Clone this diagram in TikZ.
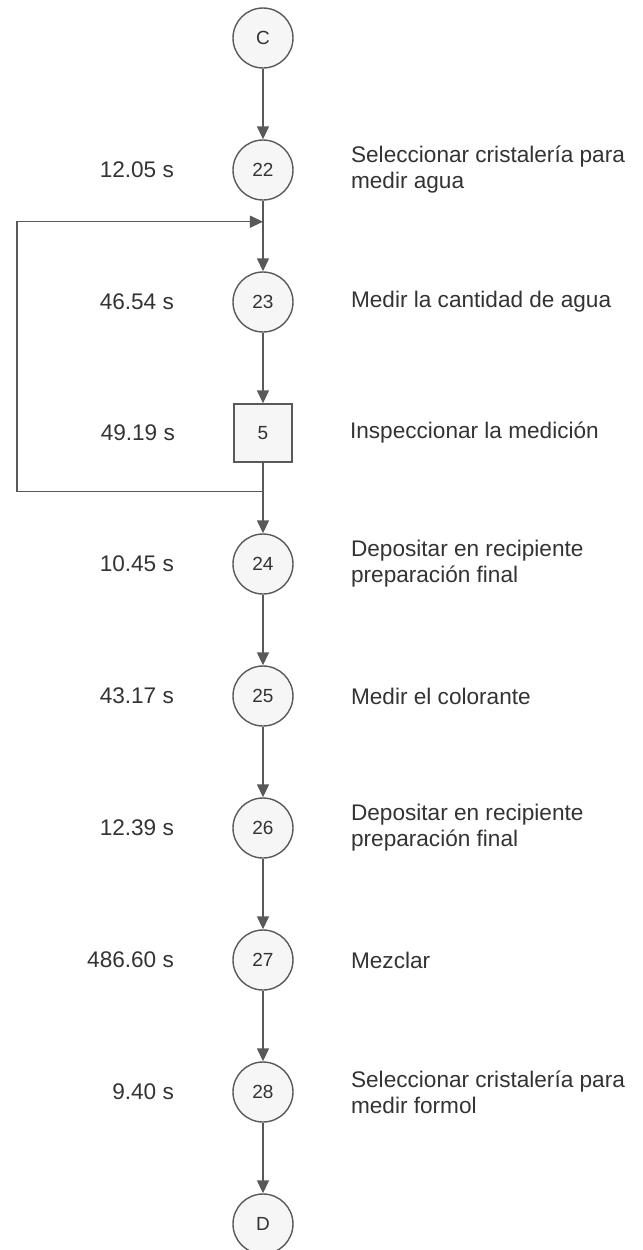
\documentclass[tikz,border=0pt]{standalone}
\usepackage{fontspec}
\setmainfont{Liberation Sans}
\usepackage{xcolor}
\usepackage{tikz}
\usetikzlibrary{arrows.meta,positioning}
\definecolor{linegray}{HTML}{595959}
\definecolor{txtgray}{HTML}{333333}

\begin{document}
\begin{tikzpicture}[
    node distance=35.3pt and 29pt,
    op/.style={circle, draw=linegray, fill=gray!7, line width=0.7pt, minimum size=30pt, inner sep=0pt, font=\fontsize{9.5}{10}\selectfont, text=txtgray},
    insp/.style={rectangle, draw=linegray, fill=gray!7, line width=0.7pt, minimum size=29pt, inner sep=0pt, font=\fontsize{9.5}{10}\selectfont, text=txtgray},
    tlab/.style={inner sep=0pt, font=\fontsize{11.3}{13}\selectfont, text=txtgray},
    desc/.style={inner sep=0pt, align=left, font=\fontsize{11.3}{13}\selectfont, text=txtgray},
    arr/.style={-{Triangle[length=6.5pt,width=6pt]}, line width=0.7pt, draw=linegray},
]
\useasboundingbox (-131.5pt,19pt) rectangle (190pt,-606pt);

% Nodes
\node (c) [op] at (0,0) {C};
\node (n22) [op, below=of c] {22};
\node (n23) [op, below=of n22] {23};
\node (n5) [insp, below=of n23] {5};
\node (n24) [op, below=of n5] {24};
\node (n25) [op, below=of n24] {25};
\node (n26) [op, below=of n25] {26};
\node (n27) [op, below=of n26] {27};
\node (n28) [op, below=of n27] {28};
\node (d) [op, below=of n28] {D};

% Times
\node (t22) [tlab, left=of n22] {12.05 s};
\node (t23) [tlab, left=of n23] {46.54 s};
\node (t5) [tlab, left=of n5] {49.19 s};
\node (t24) [tlab, left=of n24] {10.45 s};
\node (t25) [tlab, left=of n25] {43.17 s};
\node (t26) [tlab, left=of n26] {12.39 s};
\node (t27) [tlab, left=of n27] {486.60 s};
\node (t28) [tlab, left=of n28] {9.40 s};

% Descriptions
\node (a22) [desc, right=28.5pt of n22] {Seleccionar cristalería para\\medir agua};
\node (a23) [desc, right=28.5pt of n23] {Medir la cantidad de agua};
\node (a5) [desc, right=28.5pt of n5] {Inspeccionar la medición};
\node (a24) [desc, right=28.5pt of n24] {Depositar en recipiente\\preparación final};
\node (a25) [desc, right=28.5pt of n25] {Medir el colorante};
\node (a26) [desc, right=28.5pt of n26] {Depositar en recipiente\\preparación final};
\node (a27) [desc, right=28.5pt of n27] {Mezclar};
\node (a28) [desc, right=28.5pt of n28] {Seleccionar cristalería para\\medir formol};

% Flow
\draw[arr] (c) -- (n22);
\draw[arr] (n22) -- (n23);
\draw[arr] (n23) -- (n5);
\draw[arr] (n5) -- (n24);
\draw[arr] (n24) -- (n25);
\draw[arr] (n25) -- (n26);
\draw[arr] (n26) -- (n27);
\draw[arr] (n27) -- (n28);
\draw[arr] (n28) -- (d);

% Return loop (repeat measurement)
\coordinate[below=10.5pt of n22] (jtop);
\coordinate[below=14.5pt of n5] (jbot);
\coordinate[left=123pt of jbot] (lbot);
\draw[arr] (jbot) -- (lbot) |- (jtop);
\end{tikzpicture}
\end{document}
